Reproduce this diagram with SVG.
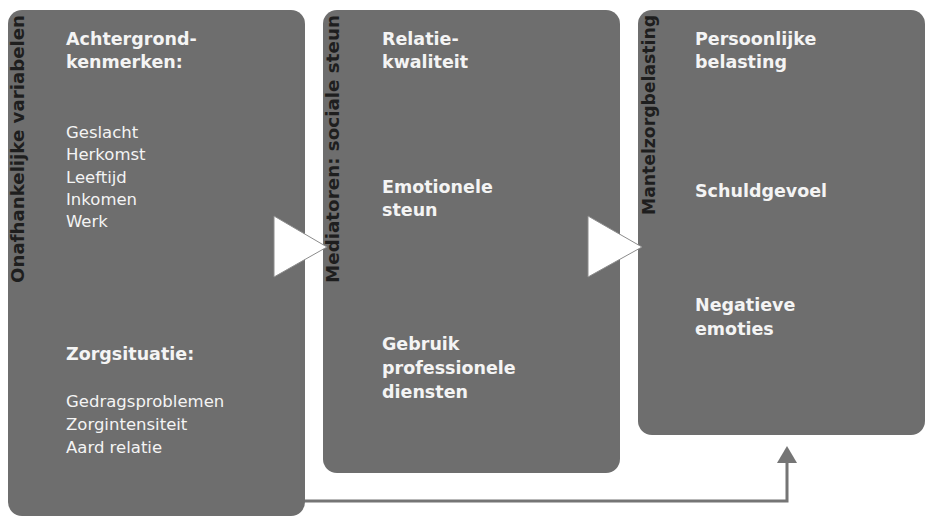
<svg xmlns="http://www.w3.org/2000/svg" width="929" height="517" viewBox="0 0 929 517">
<style>
.box{fill:#6e6e6e;}
.vt{font-family:"DejaVu Sans",sans-serif;font-weight:bold;font-size:18px;fill:#1e1e1e;}
.hd{font-family:"DejaVu Sans",sans-serif;font-weight:bold;font-size:17.5px;fill:#f4f4f4;}
.it{font-family:"DejaVu Sans",sans-serif;font-size:16.5px;fill:#f4f4f4;}
.tri{fill:#ffffff;stroke:#8c8c8c;stroke-width:1;}
.conn{fill:none;stroke:#757575;stroke-width:3;}
.ah{fill:#757575;}
</style>
<rect width="929" height="517" fill="#ffffff"/>
<g id="node-onafhankelijk">
<rect class="box" x="8" y="10" width="297" height="506" rx="14"/>
<text class="vt" transform="translate(24,15) rotate(-90)" text-anchor="end" textLength="268" lengthAdjust="spacingAndGlyphs">Onafhankelijke variabelen</text>
<text class="hd" x="66" y="45">Achtergrond-</text>
<text class="hd" x="66" y="68">kenmerken:</text>
<text class="it" x="66" y="138">Geslacht</text>
<text class="it" x="66" y="160">Herkomst</text>
<text class="it" x="66" y="183">Leeftijd</text>
<text class="it" x="66" y="205">Inkomen</text>
<text class="it" x="66" y="227">Werk</text>
<text class="hd" x="66" y="360">Zorgsituatie:</text>
<text class="it" x="66" y="407">Gedragsproblemen</text>
<text class="it" x="66" y="430">Zorgintensiteit</text>
<text class="it" x="66" y="453">Aard relatie</text>
</g>
<g id="node-mediatoren">
<rect class="box" x="323" y="10" width="297" height="463" rx="14"/>
<text class="vt" transform="translate(339,15) rotate(-90)" text-anchor="end" textLength="268" lengthAdjust="spacingAndGlyphs">Mediatoren: sociale steun</text>
<text class="hd" x="382" y="45">Relatie-</text>
<text class="hd" x="382" y="68">kwaliteit</text>
<text class="hd" x="382" y="193">Emotionele</text>
<text class="hd" x="382" y="216">steun</text>
<text class="hd" x="382" y="350">Gebruik</text>
<text class="hd" x="382" y="374">professionele</text>
<text class="hd" x="382" y="398">diensten</text>
</g>
<g id="node-mantelzorg">
<rect class="box" x="638" y="10" width="287" height="425" rx="14"/>
<text class="vt" transform="translate(655,15) rotate(-90)" text-anchor="end" textLength="200" lengthAdjust="spacingAndGlyphs">Mantelzorgbelasting</text>
<text class="hd" x="695" y="45">Persoonlijke</text>
<text class="hd" x="695" y="68">belasting</text>
<text class="hd" x="695" y="197">Schuldgevoel</text>
<text class="hd" x="695" y="311">Negatieve</text>
<text class="hd" x="695" y="335">emoties</text>
</g>
<g id="connectors">
<polygon class="tri" points="274,216 274,277 327,247"/>
<polygon class="tri" points="588,216 588,277 642,247"/>
<path class="conn" d="M305,501 H787 V462"/>
<polygon class="ah" points="787,446 777,463 797,463"/>
</g>
</svg>
